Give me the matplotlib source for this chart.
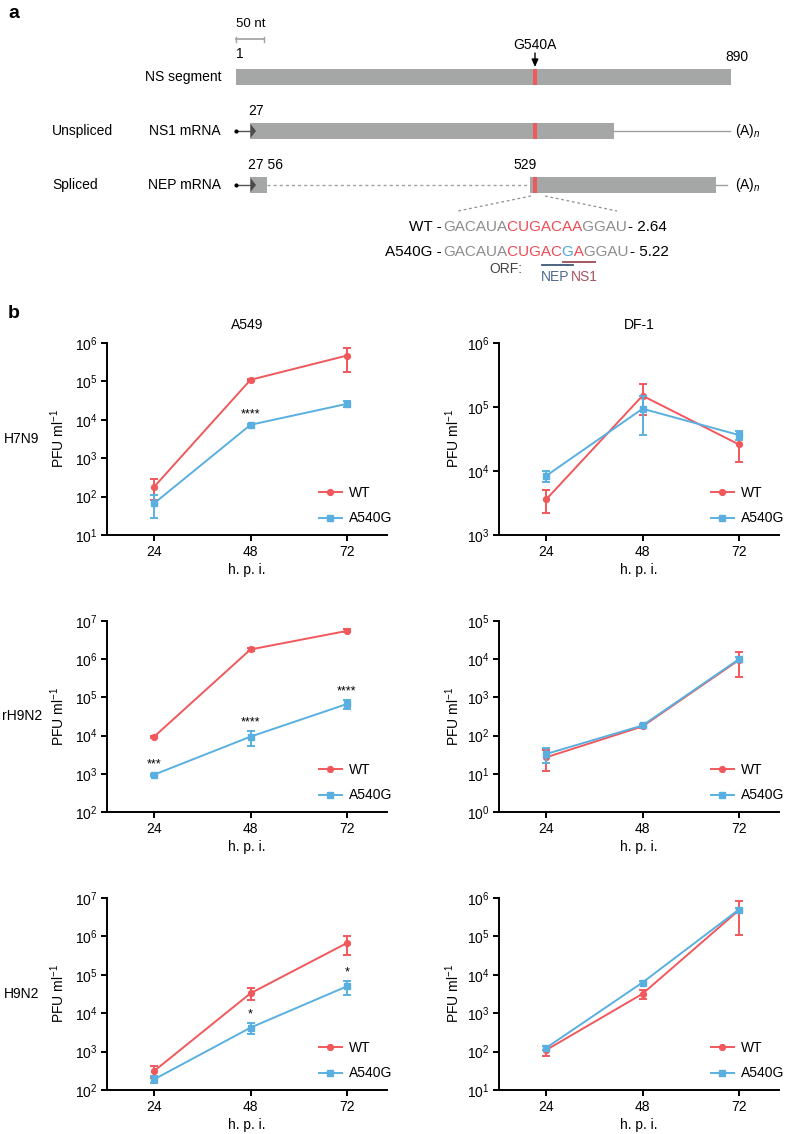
import numpy as np
import matplotlib
matplotlib.use('Agg')
import matplotlib.pyplot as plt
from matplotlib.patches import Rectangle, Polygon
from matplotlib.lines import Line2D
from matplotlib.transforms import Bbox
from matplotlib.ticker import LogLocator, LogFormatterMathtext, NullLocator

plt.rcParams['font.family'] = ['Liberation Sans', 'DejaVu Sans']
plt.rcParams['mathtext.fontset'] = 'custom'
plt.rcParams['mathtext.rm'] = 'Liberation Sans'
plt.rcParams['mathtext.it'] = 'Liberation Sans:italic'
plt.rcParams['mathtext.bf'] = 'Liberation Sans:bold'

# ---------------- data ----------------
hpi = [24, 48, 72]
cell_lines = ['A549', 'DF-1']
strains = ['H7N9', 'rH9N2', 'H9N2']
series_names = ['WT', 'A540G']

# H7N9
h7n9_a549_wt = [180, 1.1e5, 4.7e5]
h7n9_a549_wt_sd = [100, 8e3, 2.9e5]
h7n9_a549_mut = [67, 7.4e3, 2.6e4]
h7n9_a549_mut_sd = [40, 6e2, 5e3]
h7n9_a549_sig = ['', '****', '']

h7n9_df1_wt = [3.6e3, 1.5e5, 2.6e4]
h7n9_df1_wt_sd = [1.4e3, 7.5e4, 1.2e4]
h7n9_df1_mut = [8.4e3, 9.4e4, 3.65e4]
h7n9_df1_mut_sd = [1.7e3, 5.7e4, 6e3]
h7n9_df1_sig = ['', '', '']

# rH9N2
rh9n2_a549_wt = [9.4e3, 1.8e6, 5.5e6]
rh9n2_a549_wt_sd = [5e2, 1.5e5, 5e5]
rh9n2_a549_mut = [9.5e2, 9.4e3, 6.7e4]
rh9n2_a549_mut_sd = [6e1, 4e3, 1.8e4]
rh9n2_a549_sig = ['***', '****', '****']

rh9n2_df1_wt = [27, 174, 9.5e3]
rh9n2_df1_wt_sd = [15, 15, 6e3]
rh9n2_df1_mut = [33, 184, 1.0e4]
rh9n2_df1_mut_sd = [14, 20, 1.5e3]
rh9n2_df1_sig = ['', '', '']

# H9N2
h9n2_a549_wt = [313, 3.3e4, 6.7e5]
h9n2_a549_wt_sd = [110, 1.1e4, 3.4e5]
h9n2_a549_mut = [190, 4.2e3, 5.0e4]
h9n2_a549_mut_sd = [40, 1.25e3, 2e4]
h9n2_a549_sig = ['', '*', '*']

h9n2_df1_wt = [110, 3.2e3, 4.8e5]
h9n2_df1_wt_sd = [33, 8e2, 3.7e5]
h9n2_df1_mut = [125, 6.3e3, 5.0e5]
h9n2_df1_mut_sd = [15, 5e2, 6e4]
h9n2_df1_sig = ['', '', '']

# y-axis decades (low, high) per panel
ylims_exp = [[(1, 6), (3, 6)], [(2, 7), (0, 5)], [(2, 7), (1, 6)]]

# NS segment schematic (nucleotide positions)
ns_length = 890
mutation_pos = 540
ns1_start, ns1_end = 27, 680
nep_exon1 = (27, 56)
nep_exon2 = (529, 863)
polyA_end = 888
scale_nt = 50
wt_seq = 'GACAUACUGACAAGGAU'
wt_colors = 'kkkkkkrrrrrrrkkkk'
mut_seq = 'GACAUACUGACGAGGAU'
mut_colors = 'kkkkkkrrrrrbrkkkk'
wt_score, mut_score = '2.64', '5.22'
nep_codon = (9, 11)
ns1_codon = (11, 13)

panels = [
    [(h7n9_a549_wt, h7n9_a549_wt_sd, h7n9_a549_mut, h7n9_a549_mut_sd, h7n9_a549_sig),
     (h7n9_df1_wt, h7n9_df1_wt_sd, h7n9_df1_mut, h7n9_df1_mut_sd, h7n9_df1_sig)],
    [(rh9n2_a549_wt, rh9n2_a549_wt_sd, rh9n2_a549_mut, rh9n2_a549_mut_sd, rh9n2_a549_sig),
     (rh9n2_df1_wt, rh9n2_df1_wt_sd, rh9n2_df1_mut, rh9n2_df1_mut_sd, rh9n2_df1_sig)],
    [(h9n2_a549_wt, h9n2_a549_wt_sd, h9n2_a549_mut, h9n2_a549_mut_sd, h9n2_a549_sig),
     (h9n2_df1_wt, h9n2_df1_wt_sd, h9n2_df1_mut, h9n2_df1_mut_sd, h9n2_df1_sig)],
]

# ---------------- style ----------------
RED = '#F0585C'
BLUE = '#59B0E0'
GREY_BAR = '#A5A7A6'
SEQ_COL = {'k': '#8C8C8C', 'r': '#EE4B55', 'b': '#4AA6DA'}
W, H = 788, 1134

fig = plt.figure(figsize=(W / 100, H / 100), dpi=100)
renderer = fig.canvas.get_renderer()


def fx(p):
    return p / W


def fy(p):
    return 1 - p / H


# ---------------- panel a ----------------
A_H = 292
ax_a = fig.add_axes([0, fy(A_H), 1, A_H / H])
k = (731 - 236) / (ns_length - 1)


def px2nt(p):
    return (p - 236) / k + 1


ax_a.set_xlim(px2nt(0), px2nt(W))
ax_a.set_ylim(A_H, 0)
ax_a.axis('off')

bh = 16
seg_y, ns1_y, nep_y = 77, 131, 185
mut_lo, mut_hi = mutation_pos - 6, mutation_pos + 2

# scale bar
ax_a.plot([1, 1 + scale_nt], [39, 39], color='#A0A0A0', lw=1.2)
for xs in (1, 1 + scale_nt):
    ax_a.plot([xs, xs], [36.5, 41.5], color='#A0A0A0', lw=1.0)
ax_a.text(1, 24, f'{scale_nt} nt', fontsize=9.5, ha='left', va='center')

# NS segment
ax_a.add_patch(Rectangle((1, seg_y - bh / 2), ns_length - 1, bh, color=GREY_BAR, lw=0))
ax_a.add_patch(Rectangle((mut_lo, seg_y - bh / 2), mut_hi - mut_lo, bh, color=RED, lw=0))
ax_a.text(1, 54, '1', fontsize=10, ha='left', va='center')
ax_a.text(px2nt(737), 57, str(ns_length), fontsize=10, ha='center', va='center')
ax_a.text(px2nt(535), 45, f'G{mutation_pos}A', fontsize=10, ha='center', va='center')
ax_a.annotate('', xy=(px2nt(535), 67), xytext=(px2nt(535), 53),
              arrowprops=dict(arrowstyle='-|>,head_length=0.45,head_width=0.2',
                              color='black', lw=1.0, shrinkA=0, shrinkB=0))
ax_a.text(px2nt(222), seg_y, 'NS segment', fontsize=10, ha='right', va='center')

# NS1 mRNA (unspliced)
ax_a.plot([1, ns1_start], [ns1_y, ns1_y], color='#555555', lw=1.0)
ax_a.plot([1], [ns1_y], 'o', color='black', ms=2)
ax_a.add_patch(Rectangle((ns1_start, ns1_y - bh / 2), ns1_end - ns1_start, bh, color=GREY_BAR, lw=0))
ax_a.add_patch(Polygon([(ns1_start, ns1_y - 7), (ns1_start, ns1_y + 7), (ns1_start + 10, ns1_y)],
                       closed=True, color='#4A4C4C', lw=0))
ax_a.add_patch(Rectangle((mut_lo, ns1_y - bh / 2), mut_hi - mut_lo, bh, color=RED, lw=0))
ax_a.plot([ns1_end, polyA_end], [ns1_y, ns1_y], color='#A0A0A0', lw=1.0)
ax_a.text(px2nt(735), ns1_y, '(A)$_{n}$', fontsize=10, ha='left', va='center')
ax_a.text(ns1_start - 4, 111, str(ns1_start), fontsize=10, ha='left', va='center')
ax_a.text(px2nt(221), ns1_y, 'NS1 mRNA', fontsize=10, ha='right', va='center')
ax_a.text(px2nt(52), ns1_y, 'Unspliced', fontsize=10, ha='left', va='center')

# NEP mRNA (spliced)
ax_a.plot([1, nep_exon1[0]], [nep_y, nep_y], color='#555555', lw=1.0)
ax_a.plot([1], [nep_y], 'o', color='black', ms=2)
ax_a.add_patch(Rectangle((nep_exon1[0], nep_y - bh / 2), nep_exon1[1] - nep_exon1[0], bh,
                         color=GREY_BAR, lw=0))
ax_a.add_patch(Polygon([(nep_exon1[0], nep_y - 7), (nep_exon1[0], nep_y + 7), (nep_exon1[0] + 10, nep_y)],
                       closed=True, color='#4A4C4C', lw=0))
ax_a.plot([nep_exon1[1], nep_exon2[0]], [nep_y, nep_y], color='#A0A0A0', lw=1.0, ls=(0, (2.2, 2.2)))
ax_a.add_patch(Rectangle((nep_exon2[0], nep_y - bh / 2), nep_exon2[1] - nep_exon2[0], bh,
                         color=GREY_BAR, lw=0))
ax_a.add_patch(Rectangle((mut_lo, nep_y - bh / 2), mut_hi - mut_lo, bh, color=RED, lw=0))
ax_a.plot([nep_exon2[1], polyA_end - 6], [nep_y, nep_y], color='#A0A0A0', lw=1.0)
ax_a.text(px2nt(735), nep_y, '(A)$_{n}$', fontsize=10, ha='left', va='center')
ax_a.text(nep_exon1[0] - 4, 165, f'{nep_exon1[0]} {nep_exon1[1]}', fontsize=10, ha='left', va='center')
ax_a.text(nep_exon2[0] - 8, 165, str(nep_exon2[0]), fontsize=10, ha='center', va='center')
ax_a.text(px2nt(221), nep_y, 'NEP mRNA', fontsize=10, ha='right', va='center')
ax_a.text(px2nt(52), nep_y, 'Spliced', fontsize=10, ha='left', va='center')

# zoom dashed lines
ax_a.plot([px2nt(531), px2nt(458)], [196, 211], color='#909090', lw=0.9, ls=(0, (2.2, 2.2)))
ax_a.plot([px2nt(545), px2nt(617)], [196, 211], color='#909090', lw=0.9, ls=(0, (2.2, 2.2)))

# sequences (proportional spacing, coloured by clipping copies of the full string)
seq_x0 = 443
seq_fs = 11


def text_ext(s, y):
    t = ax_a.text(px2nt(seq_x0), y, s, fontsize=seq_fs, ha='left', va='center')
    e = t.get_window_extent(renderer)
    t.remove()
    return e


def draw_seq(y, seq, cols, label, score):
    full = text_ext(seq, y)
    bounds = [full.x0 - 3]
    for n in range(1, len(seq)):
        right_prev = text_ext(seq[:n], y).x1
        left_next = text_ext(seq[:n + 1], y).x1 - text_ext(seq[n], y).width
        bounds.append(0.5 * (right_prev + left_next))
    bounds.append(full.x1 + 3)
    i = 0
    while i < len(seq):
        j = i
        while j < len(seq) and cols[j] == cols[i]:
            j += 1
        t = ax_a.text(px2nt(seq_x0), y, seq, fontsize=seq_fs, ha='left', va='center',
                      color=SEQ_COL[cols[i]])
        t.set_clip_on(True)
        t.set_clip_box(Bbox([[bounds[i], full.y0 - 4], [bounds[j], full.y1 + 4]]))
        i = j
    ax_a.text(px2nt(full.x0 - 1.5), y, label + ' -', fontsize=seq_fs, ha='right', va='center')
    ax_a.text(px2nt(full.x1 + 1.5), y, '- ' + score, fontsize=seq_fs, ha='left', va='center')
    return bounds


draw_seq(227, wt_seq, wt_colors, 'WT', wt_score)
b2 = draw_seq(252, mut_seq, mut_colors, 'A540G', mut_score)

nep_l, nep_r = b2[nep_codon[0]] + 1, b2[nep_codon[1] + 1] - 1
ns1_l, ns1_r = b2[ns1_codon[0]] + 1, b2[ns1_codon[1] + 1] - 1
ax_a.plot([px2nt(nep_l), px2nt(nep_r)], [265, 265], color='#3F5878', lw=1.3)
ax_a.plot([px2nt(ns1_l), px2nt(ns1_r)], [262, 262], color='#9E4A55', lw=1.3)
ax_a.text(px2nt(nep_l - 20), 269, 'ORF:', fontsize=10, ha='right', va='center', color='#444444')
ax_a.text(px2nt(nep_l - 1), 277, 'NEP', fontsize=10, ha='left', va='center', color='#4E6A8E')
ax_a.text(px2nt(ns1_r + 3), 277, 'NS1', fontsize=10, ha='right', va='center', color='#A85460')

fig.text(fx(8), fy(13), 'a', fontsize=14, fontweight='bold', ha='left', va='center')
fig.text(fx(8), fy(313), 'b', fontsize=14, fontweight='bold', ha='left', va='center')

# ---------------- panel b ----------------
cols_px = [(107, 387), (499, 779)]
rows_px = [(343, 535), (621, 812), (898, 1090)]
ylabel_off = [-40, -37]

for r, strain in enumerate(strains):
    for c, cell in enumerate(cell_lines):
        x0, x1 = cols_px[c]
        y0, y1 = rows_px[r]
        ax = fig.add_axes([fx(x0), fy(y1), (x1 - x0) / W, (y1 - y0) / H])
        wt, wt_sd, mut, mut_sd, sig = panels[r][c]
        ax.errorbar(hpi, wt, yerr=wt_sd, color=RED, marker='o', ms=4.2, lw=1.4,
                    elinewidth=1.4, capsize=3, capthick=1.4, zorder=3)
        ax.errorbar(hpi, mut, yerr=mut_sd, color=BLUE, marker='s', ms=4.0, lw=1.4,
                    elinewidth=1.4, capsize=3, capthick=1.4, zorder=4)
        for xi, m, s, st in zip(hpi, mut, mut_sd, sig):
            if st:
                ax.annotate(st, xy=(xi, m + s), xytext=(0, 2), textcoords='offset points',
                            ha='center', va='bottom', fontsize=9)
        ax.set_yscale('log')
        lo, hi = ylims_exp[r][c]
        ax.set_ylim(10.0 ** lo, 10.0 ** hi)
        ax.yaxis.set_major_locator(LogLocator(base=10, numticks=20))
        ax.yaxis.set_major_formatter(LogFormatterMathtext())
        ax.yaxis.set_minor_locator(NullLocator())
        ax.set_xlim(12.25, 82)
        ax.set_xticks(hpi)
        ax.set_xticklabels([str(h) for h in hpi])
        for sp in ('top', 'right'):
            ax.spines[sp].set_visible(False)
        for sp in ('left', 'bottom'):
            ax.spines[sp].set_linewidth(1.4)
        ax.tick_params(direction='out', length=4, width=1.4, labelsize=10, pad=3)
        ax.set_xlabel('h. p. i.', fontsize=10, labelpad=3)
        ax.set_ylabel('PFU ml$^{-1}$', fontsize=10)
        ax.yaxis.set_label_coords(ylabel_off[c] / (x1 - x0), 0.5)
        handles = [Line2D([], [], color=RED, marker='o', ms=4.2, lw=1.4),
                   Line2D([], [], color=BLUE, marker='s', ms=4.0, lw=1.4)]
        ax.legend(handles, series_names, loc='lower right', bbox_to_anchor=(1.02, 0.05),
                  frameon=False, fontsize=10, handlelength=1.7, labelspacing=0.85,
                  handletextpad=0.5, borderaxespad=0, borderpad=0)
        if r == 0:
            ax.text(0.5, 1 + 18 / (y1 - y0), cell, transform=ax.transAxes, fontsize=10,
                    ha='center', va='center')
        if c == 0:
            fig.text(fx(22), fy((y0 + y1) / 2), strain, fontsize=10, ha='center', va='center')

fig.savefig('out.png', dpi=100)
